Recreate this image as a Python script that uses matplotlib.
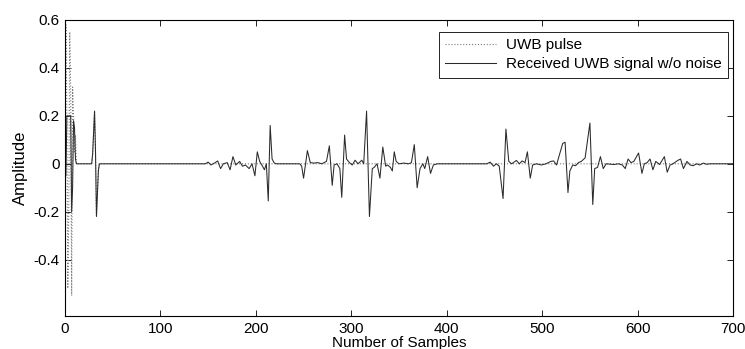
import matplotlib
matplotlib.use("Agg")
import matplotlib.pyplot as plt

plt.rcParams['font.family'] = ['Liberation Sans', 'DejaVu Sans']

# UWB pulse (dotted), vertices
pulse_x = [0, 1, 2, 3, 4, 5, 6, 7, 8, 9, 10, 11, 12,
           28, 29, 31, 32, 33, 35, 36, 700]
pulse_y = [0, 0.58, 0.2, -0.52, -0.2, 0.55, 0.3, -0.55, 0.32, 0.2, 0.05, 0.12, 0.0,
           0, 0.04, 0.22, 0.05, -0.22, -0.03, 0, 0]

# received UWB signal w/o noise (solid), vertices
rx_x = [0, 1, 2, 6, 7, 8, 9, 10, 11, 12,
        28, 29, 31, 32, 33, 35, 36,
        147, 150, 153, 157, 160, 163, 166, 170, 173, 176, 179, 183, 186, 189, 193, 196,
        199, 201.5, 204, 207, 209, 211, 213, 215, 217, 219, 221,
        246, 248, 250, 254, 257, 261, 265, 269, 274, 277, 280, 282, 285, 288, 290, 293,
        295, 298, 301, 304, 307, 311, 313, 316, 319, 322, 324, 327, 330, 333, 336, 338,
        341, 343, 345, 347, 350, 355, 360, 363, 366, 369, 372, 375, 377, 380, 383, 386, 390,
        442, 445.5, 449, 452, 455, 459, 462, 465, 468, 473, 476, 479, 482, 484.5, 487.5,
        490, 494, 499, 504, 509, 512, 515, 521.5, 524, 527, 529, 532, 535, 538, 541, 545,
        550, 553, 555, 558, 561, 564, 567, 575, 580, 584, 587, 590, 593, 596, 601, 604.5,
        607, 610, 613, 616, 619, 623, 628, 631, 634, 637, 642, 645, 648, 651.7, 655, 658,
        662, 665, 669, 672, 676, 700]
rx_y = [0, -0.05, 0.2, 0.2, -0.2, -0.1, 0.18, 0.15, 0.02, 0,
        0, 0.04, 0.22, 0.05, -0.22, -0.03, 0,
        0, 0.007, -0.005, 0.004, 0.012, -0.02, 0.0, 0.005, -0.025, 0.03, -0.005, 0.01, -0.01, -0.005, -0.02, 0.0,
        -0.05, 0.05, 0.01, -0.01, -0.025, 0.0, -0.155, 0.16, 0.02, 0.005, 0,
        0, -0.01, -0.06, 0.055, 0.005, 0.003, 0.005, 0.0, 0.01, 0.075, -0.09, -0.005, 0.0, -0.02, -0.14, 0.12,
        0.02, 0.005, -0.005, 0.015, 0.0, 0.015, 0.0, 0.22, -0.22, -0.02, -0.015, 0.0, -0.06, 0.07, -0.01, -0.005,
        -0.015, -0.03, 0.05, 0.01, 0.0, 0.003, 0.0, 0.005, 0.08, -0.1, -0.02, 0.0, -0.02, 0.03, -0.04, -0.005, 0,
        0, 0.007, -0.01, 0.0, -0.01, -0.145, 0.145, 0.01, 0.0, 0.014, 0.0, 0.012, 0.005, 0.05, -0.06,
        -0.005, 0.0, -0.005, 0.0, 0.01, 0.012, -0.005, 0.085, 0.09, -0.12, -0.03, -0.005, -0.008, 0.005, 0.01, 0.025,
        0.17, -0.17, -0.02, -0.015, 0.03, -0.02, 0.0, -0.003, 0.0, -0.005, -0.02, 0.02, 0.005, 0.01, 0.045, -0.04,
        0.0, 0.005, 0.02, -0.025, 0.01, -0.003, 0.03, -0.035, -0.005, 0.0, 0.014, 0.02, -0.02, 0.01, -0.005, -0.008,
        0.0, -0.005, 0.003, -0.002, 0, 0]

x_ticks = [0, 100, 200, 300, 400, 500, 600, 700]
y_ticks = [-0.4, -0.2, 0, 0.2, 0.4, 0.6]
y_tick_labels = ['-0.4', '-0.2', '0', '0.2', '0.4', '0.6']

fig = plt.figure(figsize=(7.45, 3.49), dpi=100)
ax = fig.add_axes([0.0872, 0.0946, 0.8968, 0.8481])

ax.plot(pulse_x, pulse_y, linestyle=':', color='#7a7a7a', linewidth=0.8, label='UWB pulse')
ax.plot(rx_x, rx_y, linestyle='-', color='#2a2a2a', linewidth=0.75, label='Received UWB signal w/o noise')

ax.set_xlim(0, 700)
ax.set_ylim(-0.635, 0.6)
ax.set_xticks(x_ticks)
ax.set_yticks(y_ticks)
ax.set_yticklabels(y_tick_labels)
ax.tick_params(direction='in', length=4, width=0.6, top=True, right=True, labelsize=11, pad=4)
for s in ax.spines.values():
    s.set_linewidth(0.8)

ax.set_xlabel('Number of Samples', fontsize=11, labelpad=0)
ax.set_ylabel('Amplitude', fontsize=12, labelpad=4)

leg = ax.legend(loc='upper right', bbox_to_anchor=(0.9925, 0.9595), borderaxespad=0,
                fontsize=11, handlelength=3.3, handletextpad=0.7, labelspacing=0.35,
                fancybox=False, framealpha=1, edgecolor='black', borderpad=0.4)
leg.get_frame().set_linewidth(0.6)

fig.savefig('out.png', dpi=100)
